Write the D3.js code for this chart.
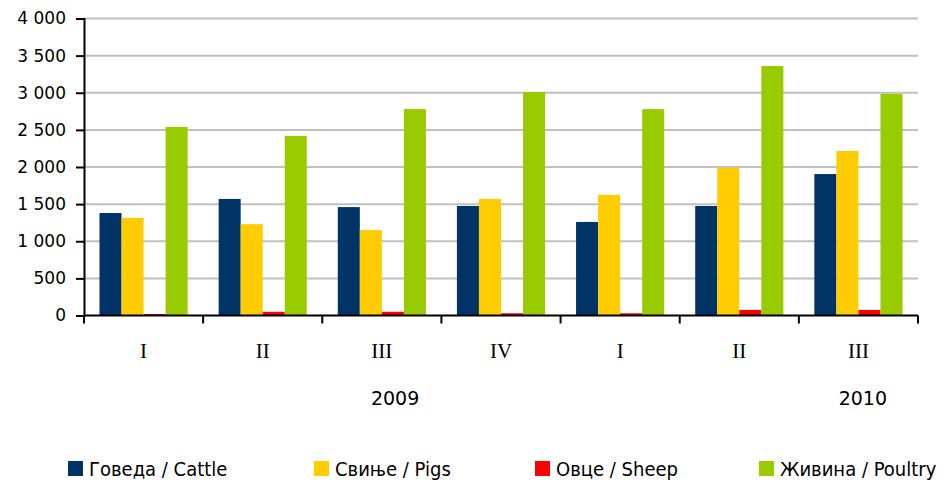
<!DOCTYPE html>
<html>
<head>
<meta charset="utf-8">
<script src="https://cdn.jsdelivr.net/npm/d3@7"></script>
<style>
  body { margin: 0; background: #fff; }
  .gridlines line { stroke: #c0c0c0; stroke-width: 2; }
  .axis text { fill: #000; }
</style>
</head>
<body>
<div id="chart"></div>
<script>
// Data
const quarters = ["I", "II", "III", "IV", "I", "II", "III"];
const years = [{ label: "2009", at: 2, dx: 0.65 }, { label: "2010", at: 6, dx: 0.55 }];
const cattle  = [1380, 1570, 1460, 1475, 1260, 1475, 1905];
const pigs    = [1315, 1230, 1150, 1570, 1625, 1990, 2215];
const sheep   = [20, 50, 50, 30, 30, 75, 75];
const poultry = [2540, 2420, 2780, 3010, 2780, 3360, 2985];
const seriesNames = ["Говеда / Cattle", "Свиње / Pigs", "Овце / Sheep", "Живина / Poultry"];
const colours = ["#003366", "#ffcc00", "#ff0000", "#99cc00"];
const yTicks = [0, 500, 1000, 1500, 2000, 2500, 3000, 3500, 4000];

const W = 943, H = 482;
const margin = { top: 18.5, right: 25, bottom: 166.5, left: 84 };
const width = W - margin.left - margin.right;
const height = H - margin.top - margin.bottom;

const series = [cattle, pigs, sheep, poultry];
const data = quarters.map((q, i) => ({ i, q, values: series.map(s => s[i]) }));

const x = d3.scaleBand()
    .domain(d3.range(quarters.length))
    .range([0, width])
    .paddingInner(0.26)
    .paddingOuter(0.13);
const xSub = d3.scaleBand()
    .domain(d3.range(series.length))
    .range([0, x.bandwidth()]);
const y = d3.scaleLinear()
    .domain([0, 4000])
    .range([height, 0]);

const svg = d3.select("#chart")
    .append("svg")
        .attr("width", W)
        .attr("height", H)
    .append("g")
        .attr("transform", `translate(${margin.left},${margin.top})`);

// Gridlines
svg.append("g")
    .attr("class", "gridlines")
    .selectAll("line")
        .data(yTicks.slice(1))
        .join("line")
            .attr("x1", 0)
            .attr("x2", width)
            .attr("y1", d => y(d))
            .attr("y2", d => y(d));

// Bars
const groups = svg.append("g")
    .selectAll("g.group")
        .data(data)
        .join("g")
            .attr("class", "group")
            .attr("transform", d => `translate(${x(d.i)},0)`);
groups.selectAll("rect")
    .data(d => d.values.map((v, k) => ({ k, v })))
    .join("rect")
        .attr("x", d => xSub(d.k))
        .attr("width", xSub.bandwidth())
        .attr("y", d => y(d.v))
        .attr("height", d => height - y(d.v))
        .attr("fill", d => colours[d.k]);

// Y axis
const fmt = d => d3.format(",")(d).replace(/,/g, " ");
svg.append("g")
    .attr("class", "axis")
    .call(d3.axisLeft(y).tickValues(yTicks).tickFormat(fmt).tickSize(8).tickPadding(10))
    .call(g => g.selectAll("line, path").attr("stroke", "#000").attr("stroke-width", 2))
    .call(g => g.selectAll("text")
        .attr("font-family", "'DejaVu Sans', Verdana, sans-serif")
        .attr("font-size", 17));

// X axis with category boundary ticks
const boundaries = d3.range(quarters.length + 1).map(i => i * width / quarters.length);
const gx = svg.append("g")
    .attr("transform", `translate(0,${height})`);
gx.append("line")
    .attr("x1", 0).attr("x2", width)
    .attr("stroke", "#000").attr("stroke-width", 2);
gx.selectAll("line.tick")
    .data(boundaries)
    .join("line")
        .attr("class", "tick")
        .attr("x1", d => d).attr("x2", d => d)
        .attr("y1", 0).attr("y2", 8)
        .attr("stroke", "#000").attr("stroke-width", 2);
gx.selectAll("text.q")
    .data(data)
    .join("text")
        .attr("class", "q")
        .attr("x", d => x(d.i) + x.bandwidth() / 2)
        .attr("y", 42)
        .attr("text-anchor", "middle")
        .attr("font-family", "'Liberation Serif', 'Times New Roman', serif")
        .attr("font-size", 21)
        .text(d => d.q);
gx.selectAll("text.year")
    .data(years)
    .join("text")
        .attr("class", "year")
        .attr("x", d => x(d.at) + x.bandwidth() * d.dx)
        .attr("y", 89)
        .attr("text-anchor", "middle")
        .attr("font-family", "'DejaVu Sans', Verdana, sans-serif")
        .attr("font-size", 19)
        .text(d => d.label);

// Legend
const legendX = [68, 314, 535, 759];
const legend = d3.select("svg").append("g")
    .attr("transform", "translate(0,461)");
const items = legend.selectAll("g")
    .data(seriesNames)
    .join("g")
        .attr("transform", (d, k) => `translate(${legendX[k]},0)`);
items.append("rect")
    .attr("width", 15)
    .attr("height", 15)
    .attr("fill", (d, k) => colours[k]);
items.append("text")
    .attr("x", 21)
    .attr("y", 15)
    .attr("font-family", "'DejaVu Sans Condensed', 'DejaVu Sans', sans-serif")
    .attr("font-size", 20)
    .text(d => d);
</script>
</body>
</html>
